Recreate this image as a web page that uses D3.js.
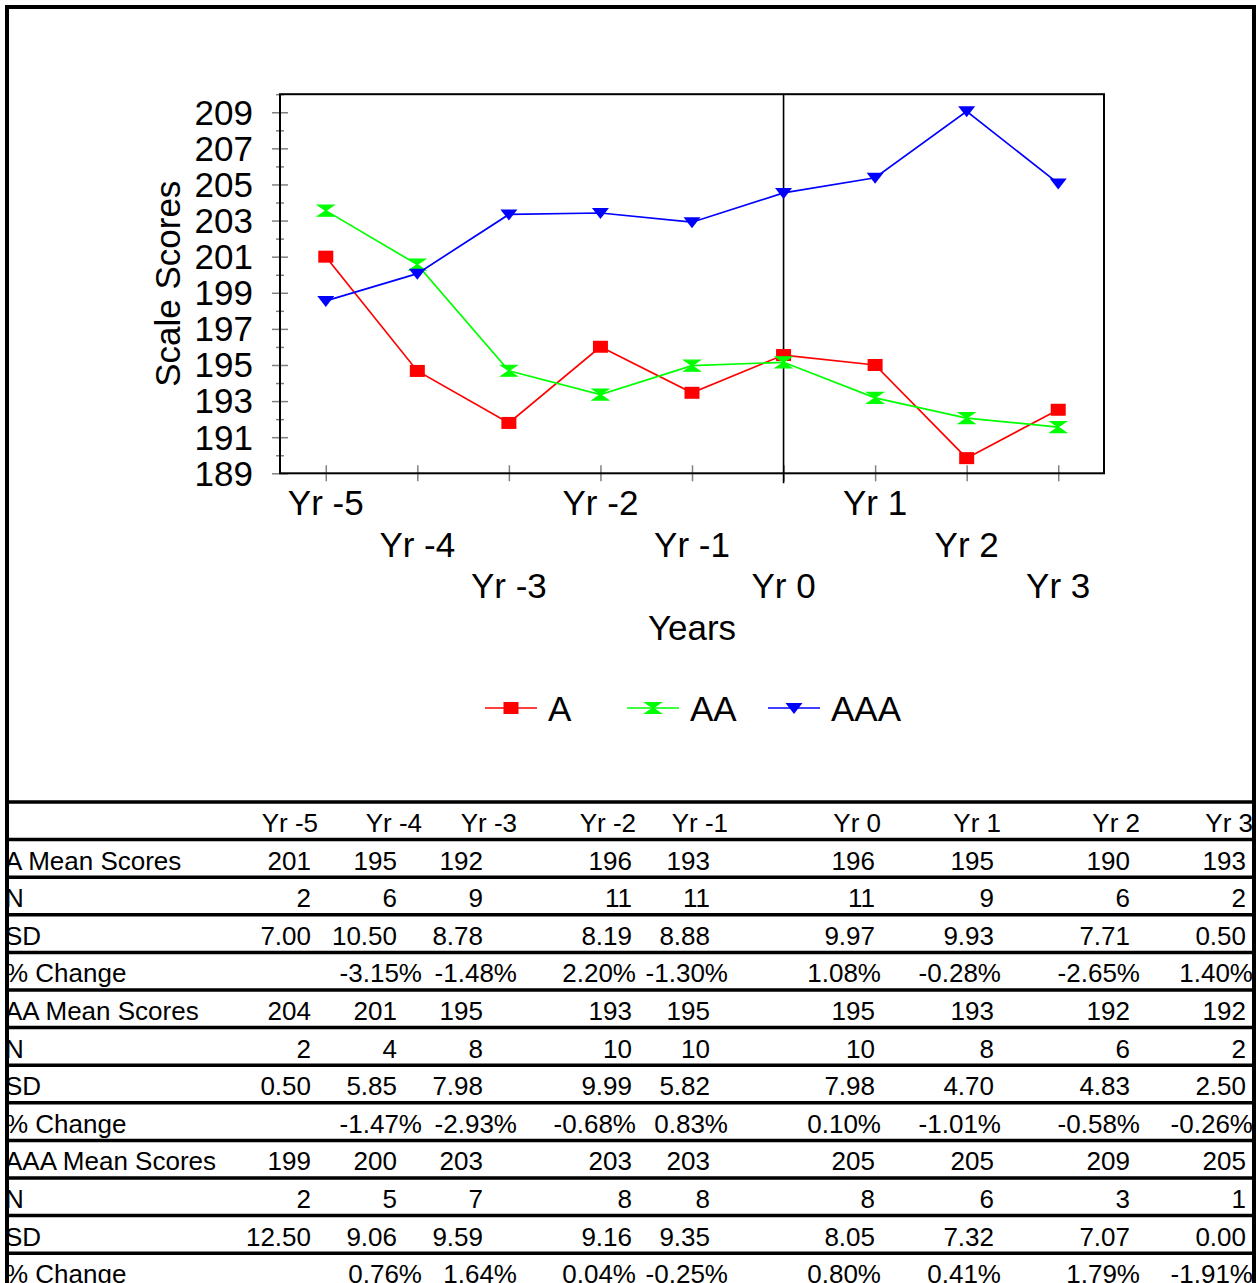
<!DOCTYPE html>
<html>
<head>
<meta charset="utf-8">
<script src="https://cdn.jsdelivr.net/npm/d3@7"></script>
<style>
  body { margin: 0; background: #fff; }
  svg { display: block; }
  text { font-family: "Liberation Sans", Arial, sans-serif; fill: #000; }
</style>
</head>
<body>
<svg id="chart" width="1257" height="1283"></svg>
<script>
// ---- data ----
const years = ["Yr -5", "Yr -4", "Yr -3", "Yr -2", "Yr -1", "Yr 0", "Yr 1", "Yr 2", "Yr 3"];
const seriesNames = ["A", "AA", "AAA"];

const meanA   = [201.00, 194.67, 191.79, 196.01, 193.46, 195.55, 195.00, 189.84, 192.52];
const meanAA  = [203.55, 200.56, 194.68, 193.36, 194.96, 195.15, 193.18, 192.06, 191.56];
const meanAAA = [198.55, 200.06, 203.34, 203.42, 202.91, 204.53, 205.37, 209.05, 205.06];

const nA   = [2, 6, 9, 11, 11, 11, 9, 6, 2];
const nAA  = [2, 4, 8, 10, 10, 10, 8, 6, 2];
const nAAA = [2, 5, 7, 8, 8, 8, 6, 3, 1];

const sdA   = [7.00, 10.50, 8.78, 8.19, 8.88, 9.97, 9.93, 7.71, 0.50];
const sdAA  = [0.50, 5.85, 7.98, 9.99, 5.82, 7.98, 4.70, 4.83, 2.50];
const sdAAA = [12.50, 9.06, 9.59, 9.16, 9.35, 8.05, 7.32, 7.07, 0.00];

const pctA   = [null, -3.15, -1.48, 2.20, -1.30, 1.08, -0.28, -2.65, 1.40];
const pctAA  = [null, -1.47, -2.93, -0.68, 0.83, 0.10, -1.01, -0.58, -0.26];
const pctAAA = [null, 0.76, 1.64, 0.04, -0.25, 0.80, 0.41, 1.79, -1.91];

const yTickLabels = d3.range(189, 210, 2);   // 189, 191, ... 209
const yMinorTicks = d3.range(190, 211, 2);   // unlabeled ticks in between

// ---- styling / layout ----
const colors = { A: "#ff0000", AA: "#00ff00", AAA: "#0000ff" };
const means  = { A: meanA, AA: meanAA, AAA: meanAAA };
const plot = { left: 280, right: 1104, top: 94.2, bottom: 473.3 };
const chartFont = 35;
const tableFont = 26;

const svg = d3.select("#chart");

const x = d3.scalePoint().domain(years).range([plot.left, plot.right]).padding(0.5);
const y = d3.scaleLinear().domain([189, 210]).range([plot.bottom, plot.top]);

// ---- axes ----
const gY = svg.append("g").attr("transform", `translate(${plot.left},0)`)
  .call(d3.axisLeft(y).tickValues(yTickLabels).tickSize(8).tickPadding(19).tickFormat(d3.format("d")));
gY.select(".domain").remove();
gY.selectAll(".tick line").attr("x1", 8).attr("stroke", "#808080").attr("stroke-width", 1.5);
gY.selectAll(".tick text").attr("font-size", chartFont).attr("font-family", "Liberation Sans, Arial, sans-serif")
  .attr("fill", "#000").attr("dy", "0.34em");

const gYm = svg.append("g").attr("transform", `translate(${plot.left},0)`)
  .call(d3.axisLeft(y).tickValues(yMinorTicks).tickSize(4).tickFormat(""));
gYm.select(".domain").remove();
gYm.selectAll(".tick line").attr("x1", 4).attr("stroke", "#808080").attr("stroke-width", 1.5);

const gX = svg.append("g").attr("transform", `translate(0,${plot.bottom})`)
  .call(d3.axisBottom(x).tickSize(8).tickFormat(""));
gX.select(".domain").remove();
gX.selectAll(".tick line").attr("y1", -8).attr("stroke", "#808080").attr("stroke-width", 1.5);

// staggered category labels (three rows)
svg.append("g").selectAll("text").data(years).join("text")
  .attr("x", d => x(d))
  .attr("y", (d, i) => 515 + (i % 3) * 41.5)
  .attr("text-anchor", "middle")
  .attr("font-size", chartFont)
  .text(d => d);

// plot frame
svg.append("rect")
  .attr("x", plot.left).attr("y", plot.top)
  .attr("width", plot.right - plot.left).attr("height", plot.bottom - plot.top)
  .attr("fill", "none").attr("stroke", "#000").attr("stroke-width", 2);

// reference line at Yr 0
svg.append("line")
  .attr("x1", x("Yr 0")).attr("x2", x("Yr 0"))
  .attr("y1", plot.top).attr("y2", plot.bottom + 10)
  .attr("stroke", "#000").attr("stroke-width", 1.6);

// axis titles
svg.append("text")
  .attr("transform", `translate(180,${(plot.top + plot.bottom) / 2}) rotate(-90)`)
  .attr("text-anchor", "middle").attr("font-size", chartFont)
  .text("Scale Scores");
svg.append("text")
  .attr("x", (plot.left + plot.right) / 2).attr("y", 640)
  .attr("text-anchor", "middle").attr("font-size", chartFont)
  .text("Years");

// ---- marker shapes ----
function marker(sel, name) {
  const c = colors[name];
  if (name === "A") {
    sel.append("rect").attr("x", -7.5).attr("y", -6).attr("width", 15).attr("height", 12).attr("fill", c);
  } else if (name === "AA") {
    sel.append("path").attr("d", "M-8,-5.5L8,-5.5L0,0L8,5.5L-8,5.5L0,0Z").attr("fill", c)
      .attr("stroke", c).attr("stroke-width", 1.2);
  } else {
    sel.append("path").attr("d", "M-8.5,-5L8.5,-5L0,6Z").attr("fill", c);
  }
}

// ---- series ----
const line = d3.line().x((d, i) => x(years[i])).y(d => y(d));
seriesNames.forEach(name => {
  const g = svg.append("g");
  g.append("path").datum(means[name]).attr("d", line)
    .attr("fill", "none").attr("stroke", colors[name]).attr("stroke-width", 1.7);
  g.selectAll("g.pt").data(means[name]).join("g").attr("class", "pt")
    .attr("transform", (d, i) => `translate(${x(years[i])},${y(d)})`)
    .each(function () { marker(d3.select(this), name); });
});

// ---- legend ----
const legendX = [485, 627, 768];
const legend = svg.append("g").selectAll("g").data(seriesNames).join("g")
  .attr("transform", (d, i) => `translate(${legendX[i]},708)`);
legend.append("line").attr("x1", 0).attr("x2", 52).attr("y1", 0).attr("y2", 0)
  .attr("stroke", d => colors[d]).attr("stroke-width", 1.7);
legend.append("g").attr("transform", "translate(26,0)").each(function (d) { marker(d3.select(this), d); });
legend.append("text").attr("x", 63).attr("y", 13).attr("font-size", chartFont).text(d => d);

// ---- data table ----
const tableTop = 802, rowH = 37.6;
const numRight  = [311, 397, 483, 632, 710, 875, 994, 1130, 1246];   // counts, means, SDs
const textRight = [318, 422, 517, 636, 728, 881, 1001, 1140, 1253];  // headers, percentages

const fmtInt = d3.format(".0f");
const fmtSD = v => v.toFixed(2);
const fmtPct = v => v == null ? "" : v.toFixed(2) + "%";

const tableRows = [];
[["A", nA, sdA, pctA], ["AA", nAA, sdAA, pctAA], ["AAA", nAAA, sdAAA, pctAAA]].forEach(([name, n, sd, pct]) => {
  tableRows.push({ label: name + " Mean Scores", cells: means[name].map(fmtInt), edge: numRight });
  tableRows.push({ label: "N", cells: n.map(String), edge: numRight });
  tableRows.push({ label: "SD", cells: sd.map(fmtSD), edge: numRight });
  tableRows.push({ label: "% Change", cells: pct.map(fmtPct), edge: textRight });
});
const allRows = [{ label: "", cells: years, edge: textRight }].concat(tableRows);

const tbl = svg.append("g");
const rowG = tbl.selectAll("g.row").data(allRows).join("g").attr("class", "row")
  .attr("transform", (d, i) => `translate(0,${tableTop + i * rowH + 30})`);
rowG.append("text").attr("x", 5).attr("font-size", tableFont).text(d => d.label);
rowG.each(function (r) {
  d3.select(this).selectAll("text.cell").data(r.cells).join("text").attr("class", "cell")
    .attr("x", (d, i) => r.edge[i])
    .attr("text-anchor", "end").attr("font-size", tableFont)
    .text(d => d);
});

// table rules
tbl.selectAll("line.rule").data(d3.range(allRows.length)).join("line").attr("class", "rule")
  .attr("x1", 7).attr("x2", 1254)
  .attr("y1", i => tableTop + i * rowH).attr("y2", i => tableTop + i * rowH)
  .attr("stroke", "#000").attr("stroke-width", 3.5);

// outer frame
svg.append("line").attr("x1", 7).attr("x2", 1256).attr("y1", 7).attr("y2", 7).attr("stroke", "#000").attr("stroke-width", 4);
svg.append("line").attr("x1", 7).attr("x2", 7).attr("y1", 5).attr("y2", 1283).attr("stroke", "#000").attr("stroke-width", 4);
svg.append("line").attr("x1", 1254).attr("x2", 1254).attr("y1", 5).attr("y2", 1283).attr("stroke", "#000").attr("stroke-width", 4);
</script>
</body>
</html>
